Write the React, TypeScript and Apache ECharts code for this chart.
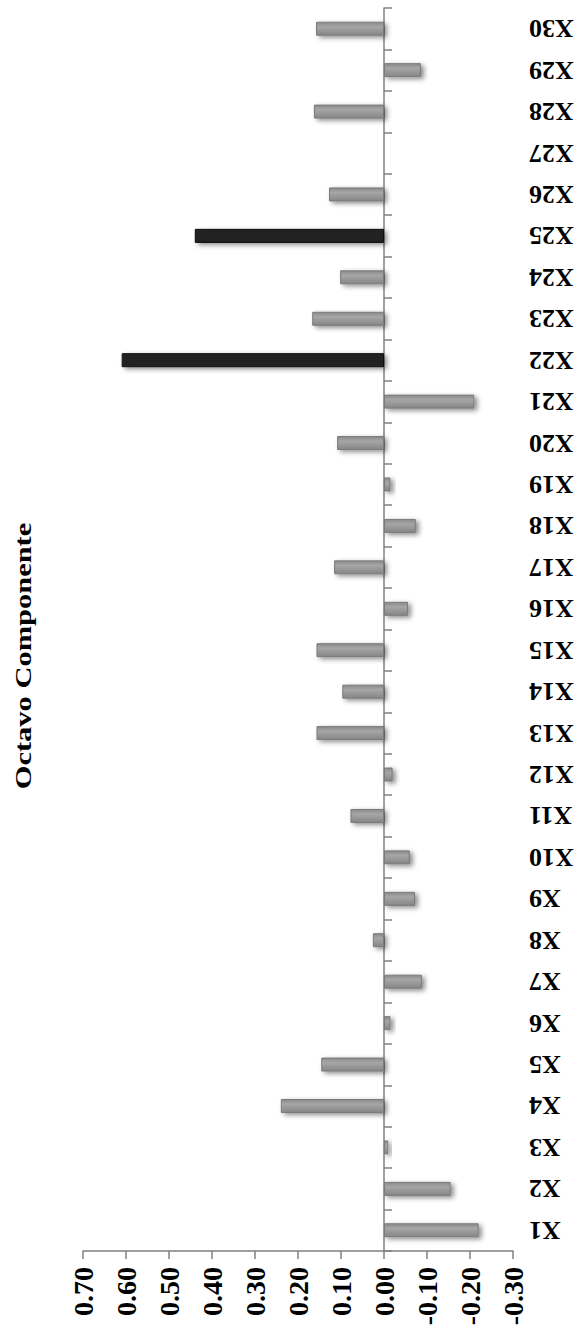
import React, { useEffect, useRef } from "react";
import * as echarts from "echarts";

const categories = [
  "X1", "X2", "X3", "X4", "X5", "X6", "X7", "X8", "X9", "X10",
  "X11", "X12", "X13", "X14", "X15", "X16", "X17", "X18", "X19", "X20",
  "X21", "X22", "X23", "X24", "X25", "X26", "X27", "X28", "X29", "X30",
];
const values = [
  -0.22, -0.155, -0.01, 0.24, 0.146, -0.015, -0.088, 0.026, -0.072, -0.06,
  0.078, -0.02, 0.157, 0.097, 0.157, -0.056, 0.116, -0.074, -0.015, 0.109,
  -0.21, 0.61, 0.167, 0.102, 0.44, 0.128, 0, 0.163, -0.086, 0.158,
];
const highlighted = ["X22", "X25"];
const axisMin = -0.3;
const axisMax = 0.7;
const axisStep = 0.1;
const titleText = "Octavo Componente";

const FONT = '"Liberation Serif", "Times New Roman", serif';

export default function App() {
  const ref = useRef<HTMLDivElement>(null);
  useEffect(() => {
    if (!ref.current) return;
    const chart = echarts.init(ref.current, null, { renderer: "svg" });
    const greyFill = new echarts.graphic.LinearGradient(0, 0, 0, 1, [
      { offset: 0, color: "#8a8a8a" },
      { offset: 0.35, color: "#a6a6a6" },
      { offset: 1, color: "#868686" },
    ]);
    const data = values.map((v, i) => {
      const hl = highlighted.includes(categories[i]);
      return {
        value: v,
        itemStyle: hl
          ? { color: "#222222", borderColor: "#111111", borderWidth: 1 }
          : { color: greyFill, borderColor: "#7a7a7a", borderWidth: v === 0 ? 0 : 1 },
      };
    });
    chart.setOption({
      animation: false,
      backgroundColor: "#ffffff",
      grid: { left: 83, right: 65, top: 8, bottom: 81, containLabel: false },
      xAxis: {
        type: "value",
        inverse: true,
        min: axisMin,
        max: axisMax,
        interval: axisStep,
        position: "bottom",
        splitLine: { show: false },
        axisLine: { show: true, lineStyle: { color: "#808080", width: 1.5 } },
        axisTick: { show: true, length: 8, lineStyle: { color: "#808080", width: 1.5 } },
        axisLabel: {
          rotate: 90,
          margin: 16,
          formatter: (v: number) => v.toFixed(2),
          fontFamily: FONT,
          fontWeight: "bold",
          fontSize: 28,
          color: "#000",
        },
      },
      yAxis: [
        {
          type: "category",
          data: categories,
          position: "right",
          axisLine: { show: false, onZero: false },
          axisTick: { show: false },
          axisLabel: {
            rotate: 180,
            margin: 16,
            fontFamily: FONT,
            fontWeight: "bold",
            fontSize: 26,
            color: "#000",
          },
        },
        {
          type: "category",
          data: categories,
          position: "right",
          axisLine: { show: true, onZero: true, lineStyle: { color: "#808080", width: 1.5 } },
          axisTick: { show: true, length: 8, lineStyle: { color: "#808080", width: 1.5 } },
          axisLabel: { show: false },
        },
      ],
      graphic: [
        {
          type: "text",
          x: 23,
          y: 656,
          rotation: Math.PI / 2,
          scaleX: 1.27,
          style: {
            text: titleText,
            font: `bold 24px ${FONT}`,
            fill: "#000",
            textAlign: "center",
            textVerticalAlign: "middle",
          },
        },
      ],
      series: [
        {
          type: "bar",
          yAxisIndex: 0,
          data,
          barWidth: 14,
          itemStyle: {
            shadowBlur: 5,
            shadowOffsetX: 3,
            shadowOffsetY: 2,
            shadowColor: "rgba(0,0,0,0.45)",
          },
        },
      ],
    });
    return () => chart.dispose();
  }, []);
  return (
    <div
      ref={ref}
      style={{ position: "absolute", left: 0, top: 0, width: 578, height: 1332 }}
    />
  );
}
